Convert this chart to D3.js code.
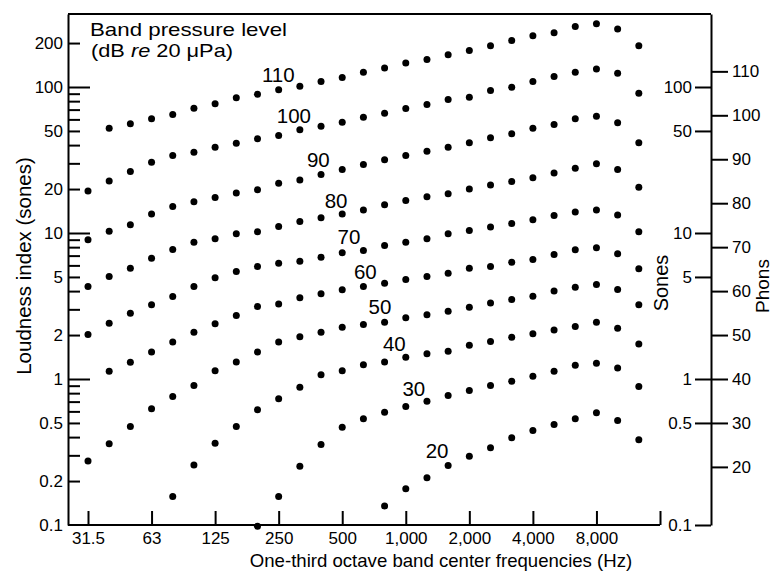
<!DOCTYPE html>
<html><head><meta charset="utf-8">
<script src="https://cdn.jsdelivr.net/npm/d3@7"></script>
<style>
body{margin:0;background:#fff}
svg{display:block}
text{font-family:"Liberation Sans",Arial,Helvetica,sans-serif;fill:#000}
</style>
</head><body>
<svg id="chart" width="775" height="573"></svg>
<script>
// One-third octave bands (Hz); the last one only carries an axis tick
const bands = ["31.5","40","50","63","80","100","125","160","200","250","315","400","500","630","800","1000","1250","1600","2000","2500","3150","4000","5000","6300","8000","10000","12500","16000"];
const tickBands = ["31.5","63","125","250","500","1000","2000","4000","8000","16000"];
const tickBandLabels = ["31.5","63","125","250","500","1,000","2,000","4,000","8,000",""];

// Band pressure levels (dB re 20 µPa) and their loudness index (sones), per band 31.5 … 12500 Hz
const levels = [110,100,90,80,70,60,50,40,30,20];
const level110 = [null,52.2,56.0,60.6,64.8,71.6,76.7,84.3,89.3,95.7,101,109,116,126,135,146,154,166,178,192,208,224,235,260,271,250,192];
const level100 = [19.4,22.7,26.4,30.5,33.9,35.8,38.7,41.2,44.2,46.5,50.9,53.9,57.4,62.1,66.1,71.2,75.9,82.1,85.1,94.6,99.7,109,118,126,133,124,90.7];
const level90  = [8.98,10.3,11.4,13.5,15.2,16.4,17.5,18.8,19.8,21.9,23.1,25.2,27.2,29.5,31.7,33.9,36.3,38.7,41.5,44.9,47.8,52.2,55.4,60.6,63.1,56.9,41.5];
const level80  = [4.30,5.04,5.74,6.72,7.71,8.65,9.13,9.87,10.2,11.1,12.0,12.7,13.5,14.4,15.6,16.7,17.7,18.6,20.0,21.3,22.5,23.9,25.8,27.8,29.8,27.2,20.6];
const level70  = [2.02,2.41,2.82,3.22,3.67,4.30,4.93,5.45,5.89,6.21,6.41,6.83,7.32,7.59,8.21,8.65,9.13,9.87,10.4,11.0,11.6,12.3,13.2,13.9,14.4,13.3,10.2];
const level60  = [null,1.13,1.30,1.53,1.79,2.09,2.39,2.72,3.14,3.27,3.60,3.83,4.08,4.30,4.53,4.80,5.04,5.30,5.74,5.89,6.31,6.58,7.12,7.67,7.92,7.20,5.69];
const level50  = [0.274,0.360,0.473,0.625,0.759,0.903,1.14,1.31,1.53,1.79,1.95,2.09,2.26,2.36,2.45,2.63,2.75,2.91,3.10,3.31,3.50,3.69,4.00,4.25,4.44,4.10,3.22];
const level40  = [null,null,null,null,0.157,0.258,0.363,0.473,0.615,0.732,0.879,1.07,1.14,1.25,1.31,1.41,1.49,1.55,1.70,1.81,1.93,2.04,2.17,2.29,2.45,2.23,1.74];
const level30  = [null,null,null,null,null,null,null,null,0.098,0.157,0.253,0.356,0.468,0.534,0.592,0.648,0.705,0.771,0.834,0.903,0.966,1.045,1.13,1.24,1.28,1.19,0.888];
const level20  = [null,null,null,null,null,null,null,null,null,null,null,null,null,null,0.135,0.177,0.211,0.256,0.296,0.338,0.396,0.444,0.488,0.534,0.587,0.520,0.383];
const seriesValues = [level110,level100,level90,level80,level70,level60,level50,level40,level30,level20];

// Curve labels, anchored in data space (band index, sones)
const curveLabelBand = [8.98,9.72,10.87,11.71,12.32,13.09,13.78,14.46,15.38,16.48];
const curveLabelSones = [108.7,56.4,28.5,14.8,8.41,4.82,2.77,1.56,0.765,0.289];

// Axis ticks
const leftLabelTicks = [0.1,0.2,0.5,1,2,5,10,20,50,100,200];
const leftMinorTicks = [0.2,0.3,0.4,0.5,0.6,0.7,0.8,0.9,1,2,3,4,5,6,7,8,9,10,20,30,40,50,60,70,80,90,100,200];
const leftMajorTicks = [1,10,100];
const sonesTicks = [0.1,0.5,1,5,10,50,100];
const phonsTicks = [20,30,40,50,60,70,80,90,100,110];

const svg = d3.select("#chart");
const X0 = 68, XR = 711, YT = 14, YB = 525;

const x = d3.scalePoint().domain(bands).range([88, 660]);
const y = d3.scaleLog().domain([0.1, 316.23]).range([YB, YT]);
// phons: 40 phons = 1 sone, +10 phons doubles loudness
const yPh = d3.scaleLinear().domain([40, 30]).range([y(1), y(0.5)]);

function styleAxis(g){
  g.selectAll(".domain").attr("stroke","#000").attr("stroke-width",2);
  g.selectAll(".tick line").attr("stroke","#000").attr("stroke-width",2);
  g.selectAll("text").attr("fill","#000").attr("font-family",'"Liberation Sans",Arial,sans-serif');
}

// frame: top line
svg.append("line").attr("x1",X0).attr("x2",XR).attr("y1",YT).attr("y2",YT)
  .attr("stroke","#000").attr("stroke-width",2);

// left axis (ticks inside)
const gL = svg.append("g").attr("transform",`translate(${X0},0)`)
  .call(d3.axisRight(y).tickValues(leftMinorTicks).tickSize(12).tickSizeOuter(0).tickFormat(""));
gL.selectAll(".tick line").attr("x2", d => leftMajorTicks.includes(d) ? 22 : 12);
styleAxis(gL);
const gLl = svg.append("g").attr("transform",`translate(${X0},0)`)
  .call(d3.axisLeft(y).tickValues(leftLabelTicks).tickSize(0).tickPadding(5).tickFormat(d3.format("~g")));
gLl.select(".domain").remove();
gLl.selectAll("text").attr("font-size",17);
styleAxis(gLl);

// bottom axis
svg.append("line").attr("x1",X0).attr("x2",x("16000")).attr("y1",YB).attr("y2",YB)
  .attr("stroke","#000").attr("stroke-width",2);
const gB = svg.append("g").attr("transform",`translate(0,${YB})`)
  .call(d3.axisTop(x).tickValues(tickBands).tickSize(14).tickFormat(""));
gB.select(".domain").remove();
styleAxis(gB);
const gBl = svg.append("g").attr("transform",`translate(0,${YB})`)
  .call(d3.axisBottom(x).tickValues(tickBands).tickSize(0).tickPadding(7)
    .tickFormat(d => tickBandLabels[tickBands.indexOf(d)]));
gBl.select(".domain").remove();
gBl.selectAll("text").attr("font-size",17);
styleAxis(gBl);

// right axis: sones (left side) and phons (right side)
const gS = svg.append("g").attr("transform",`translate(${XR},0)`)
  .call(d3.axisLeft(y).tickValues(sonesTicks).tickSize(16).tickSizeOuter(0).tickPadding(3).tickFormat(d3.format("~g")));
gS.selectAll("text").attr("font-size",17);
styleAxis(gS);
const gP = svg.append("g").attr("transform",`translate(${XR},0)`)
  .call(d3.axisRight(yPh).tickValues(phonsTicks).tickSize(17).tickPadding(4));
gP.select(".domain").remove();
gP.selectAll("text").attr("font-size",17);
styleAxis(gP);

// dots
const pts = [];
seriesValues.forEach((vals, si) => vals.forEach((v, i) => { if (v != null) pts.push({band: bands[i], v, level: levels[si]}); }));
svg.append("g").selectAll("circle").data(pts).join("circle")
  .attr("cx", d => x(d.band)).attr("cy", d => y(d.v)).attr("r", 3.5).attr("fill","#000");

// curve labels
svg.append("g").selectAll("text").data(levels).join("text")
  .attr("x", (d,i) => x(bands[0]) + curveLabelBand[i] * x.step())
  .attr("y", (d,i) => y(curveLabelSones[i]))
  .attr("text-anchor","middle").attr("font-size",20.5)
  .text(d => d);

// title block
const t1 = svg.append("text").attr("x",90).attr("y",36).attr("font-size",19)
  .attr("textLength",197).attr("lengthAdjust","spacingAndGlyphs").text("Band pressure level");
const t2 = svg.append("text").attr("x",91).attr("y",57).attr("font-size",19)
  .attr("textLength",142).attr("lengthAdjust","spacingAndGlyphs");
t2.append("tspan").text("(dB ");
t2.append("tspan").attr("font-style","italic").text("re");
t2.append("tspan").text(" 20 \u03bcPa)");

// axis titles
svg.append("text").attr("transform","translate(31,266) rotate(-90)")
  .attr("text-anchor","middle").attr("font-size",20.5).text("Loudness index (sones)");
svg.append("text").attr("x",441).attr("y",567).attr("text-anchor","middle")
  .attr("font-size",18.6).text("One-third octave band center frequencies (Hz)");
svg.append("text").attr("transform","translate(668,283) rotate(-90)")
  .attr("text-anchor","middle").attr("font-size",20).text("Sones");
svg.append("text").attr("transform","translate(769,286) rotate(-90)")
  .attr("text-anchor","middle").attr("font-size",19).text("Phons");
</script>
</body></html>
